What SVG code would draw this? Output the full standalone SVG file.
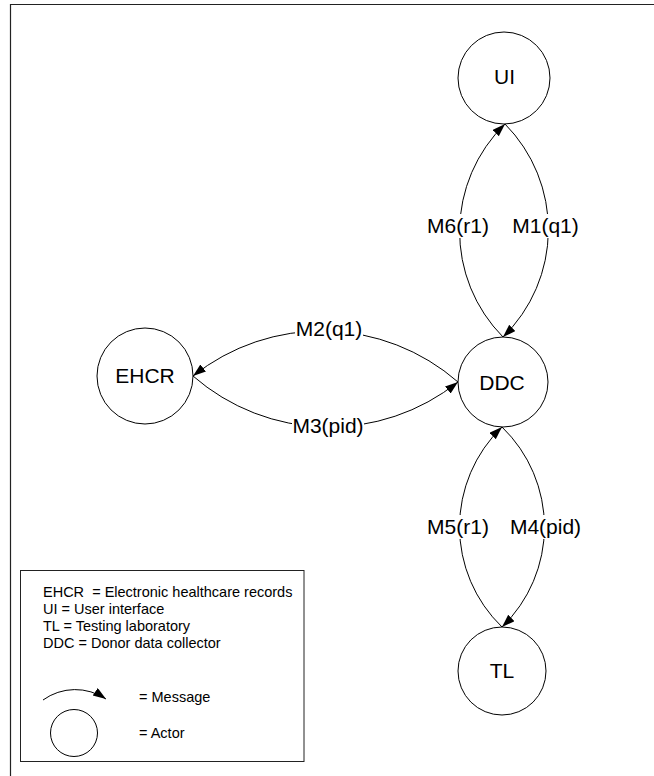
<svg xmlns="http://www.w3.org/2000/svg" width="654" height="776" viewBox="0 0 654 776">
<style>
.node{fill:#fff;stroke:#000;stroke-width:1}
.lbl{font-family:"Liberation Sans",Arial,sans-serif;font-size:21px;fill:#000;text-anchor:middle}
.leg{font-family:"Liberation Sans",Arial,sans-serif;font-size:14.5px;fill:#000}
.edge{fill:none;stroke:#000;stroke-width:1;marker-end:url(#ah)}
.bg{fill:#fff}
</style>
<defs>
<marker id="ah" markerUnits="userSpaceOnUse" markerWidth="14" markerHeight="10" refX="13" refY="4.5" orient="auto">
<path d="M0,0 L13,4.5 L0,9 z" fill="#000"/>
</marker>
</defs>
<rect x="0" y="0" width="654" height="776" fill="#fff"/>
<g id="frame" fill="none" stroke="#222" stroke-width="1.2">
<path d="M10.5,776 L10.5,4.5 L654,4.5"/>
</g>
<g id="connectors">
<path id="m6" class="edge" d="M503,337 A150,150 0 0 1 505,124"/>
<path id="m1" class="edge" d="M505,124 A150,150 0 0 1 503,337"/>
<path id="m2" class="edge" d="M458,382 A207,207 0 0 0 193,376"/>
<path id="m3" class="edge" d="M193,376 A207,207 0 0 0 458,382"/>
<path id="m5" class="edge" d="M502,627 A139,139 0 0 1 502,427"/>
<path id="m4" class="edge" d="M502,427 A139,139 0 0 1 502,627"/>
<g id="edge-labels">
<rect class="bg" x="426" y="214" width="64" height="24"/>
<text class="lbl" x="458" y="233">M6(r1)</text>
<rect class="bg" x="512" y="214" width="67" height="24"/>
<text class="lbl" x="545.5" y="233">M1(q1)</text>
<rect class="bg" x="295" y="318" width="68" height="24"/>
<text class="lbl" x="329" y="336">M2(q1)</text>
<rect class="bg" x="292" y="414" width="72" height="24"/>
<text class="lbl" x="328" y="433">M3(pid)</text>
<rect class="bg" x="426" y="515" width="64" height="24"/>
<text class="lbl" x="458" y="534">M5(r1)</text>
<rect class="bg" x="509" y="515" width="73" height="24"/>
<text class="lbl" x="545.5" y="534">M4(pid)</text>
</g>
</g>
<g id="UI">
<circle class="node" cx="504" cy="78" r="46"/>
<text class="lbl" x="504.5" y="84">UI</text>
</g>
<g id="DDC">
<circle class="node" cx="503" cy="382" r="45"/>
<text class="lbl" x="502" y="390">DDC</text>
</g>
<g id="EHCR">
<circle class="node" cx="145" cy="376" r="48"/>
<text class="lbl" x="145" y="383">EHCR</text>
</g>
<g id="TL">
<circle class="node" cx="502" cy="671" r="44"/>
<text class="lbl" x="502" y="678">TL</text>
</g>
<g id="legend">
<rect x="20.5" y="570.5" width="283.5" height="191" fill="#fff" stroke="#222" stroke-width="1"/>
<text class="leg" x="43" y="597" xml:space="preserve">EHCR  = Electronic healthcare records</text>
<text class="leg" x="43" y="614">UI = User interface</text>
<text class="leg" x="43" y="631">TL = Testing laboratory</text>
<text class="leg" x="43" y="648">DDC = Donor data collector</text>
<path class="edge" d="M43,700 A55,55 0 0 1 106,699"/>
<text class="leg" x="139" y="702">= Message</text>
<circle cx="74" cy="733" r="23.5" fill="#fff" stroke="#000" stroke-width="1"/>
<text class="leg" x="139" y="738">= Actor</text>
</g>
</svg>
